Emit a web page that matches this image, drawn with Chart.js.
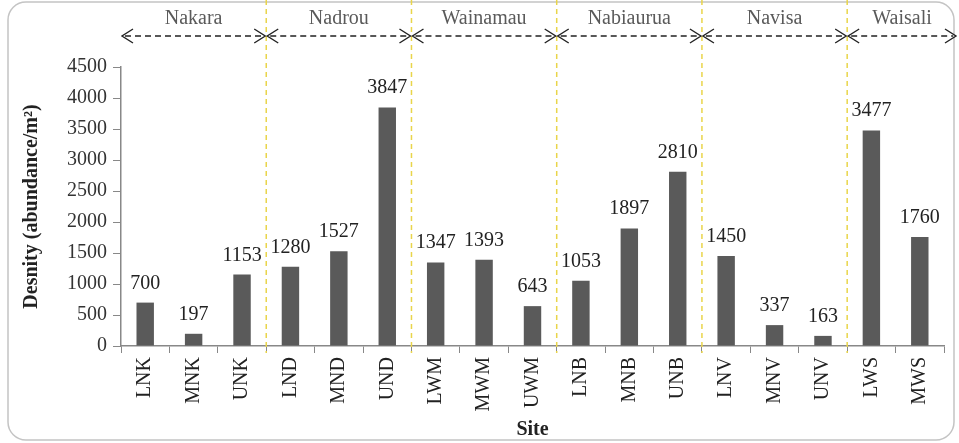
<!DOCTYPE html>
<html>
<head>
<meta charset="utf-8">
<script src="https://cdn.jsdelivr.net/npm/chart.js@4.4.0/dist/chart.umd.min.js"></script>
<style>
  html, body { margin: 0; padding: 0; background: #fff; }
  #wrap { width: 959px; height: 443px; position: relative; }
</style>
</head>
<body>
<div id="wrap"><canvas id="densityChart"></canvas></div>
<script>
// sites and densities
const sites = ["LNK", "MNK", "UNK", "LND", "MND", "UND", "LWM", "MWM", "UWM",
               "LNB", "MNB", "UNB", "LNV", "MNV", "UNV", "LWS", "MWS"];
const density = [700, 197, 1153, 1280, 1527, 3847, 1347, 1393, 643,
                 1053, 1897, 2810, 1450, 337, 163, 3477, 1760];
const yTicks = [0, 500, 1000, 1500, 2000, 2500, 3000, 3500, 4000, 4500];

// river groups: name and how many sites each spans
const groupNames = ["Nakara", "Nadrou", "Wainamau", "Nabiaurua", "Navisa", "Waisali"];
const groupSizes = [3, 3, 3, 3, 3, 2];

const serif = "Liberation Serif";

// 🔥 frame + yellow separators + group arrows + value labels
const decorations = {
    id: 'decorations',
    beforeDraw(chart) {
        const c = chart.ctx;
        c.save();
        c.strokeStyle = '#c4c4c4';
        c.lineWidth = 1.5;
        c.beginPath();
        c.roundRect(8, 2, 946, 438, 18);
        c.stroke();
        c.restore();
    },
    afterDraw(chart) {
        const c = chart.ctx;
        const x = chart.scales.x;
        const area = chart.chartArea;
        const half = (x.getPixelForValue(1) - x.getPixelForValue(0)) / 2;

        // boundaries between groups
        let edges = [area.left];
        let idx = 0;
        groupSizes.forEach(n => {
            idx += n;
            edges.push(x.getPixelForValue(idx - 1) + half);
        });
        edges[edges.length - 1] = chart.width - 2;

        // yellow dashed lines
        c.save();
        c.strokeStyle = '#e9d54a';
        c.lineWidth = 1.5;
        c.setLineDash([5, 4]);
        for (let i = 1; i < edges.length - 1; i++) {
            c.beginPath();
            c.moveTo(edges[i], 0);
            c.lineTo(edges[i], area.bottom + 7);
            c.stroke();
        }
        c.restore();

        // arrows and group names
        const ay = 36;
        c.save();
        c.strokeStyle = '#222';
        c.fillStyle = '#5a5a5a';
        c.lineWidth = 1.4;
        c.font = "20px '" + serif + "'";
        c.textAlign = 'center';
        c.textBaseline = 'middle';
        for (let i = 0; i < groupNames.length; i++) {
            const a = edges[i] + 1, b = edges[i + 1] - 1;
            c.setLineDash([6, 4]);
            c.beginPath();
            c.moveTo(a + 3, ay);
            c.lineTo(b - 3, ay);
            c.stroke();
            c.setLineDash([]);
            c.beginPath();
            c.moveTo(a + 11, ay - 7); c.lineTo(a, ay); c.lineTo(a + 11, ay + 7);
            c.moveTo(b - 11, ay - 7); c.lineTo(b, ay); c.lineTo(b - 11, ay + 7);
            c.stroke();
            c.fillText(groupNames[i], (a + b) / 2, 19);
        }
        c.restore();

        // value labels above bars
        const meta = chart.getDatasetMeta(0);
        c.save();
        c.fillStyle = '#222';
        c.font = "20px '" + serif + "'";
        c.textAlign = 'center';
        c.textBaseline = 'alphabetic';
        meta.data.forEach((bar, i) => {
            c.fillText(String(density[i]), bar.x, bar.y - 14);
        });
        c.restore();
    }
};

const ctx = document.getElementById("densityChart").getContext("2d");

new Chart(ctx, {
    type: 'bar',
    data: {
        labels: sites,
        datasets: [{
            data: density,
            backgroundColor: '#5a5a5a',
            barPercentage: 0.36,
            categoryPercentage: 1
        }]
    },
    options: {
        responsive: true,
        maintainAspectRatio: false,
        animation: false,
        layout: { padding: { left: 20, right: 15, top: 67, bottom: 1 } },
        plugins: {
            legend: { display: false },
            tooltip: { enabled: false }
        },
        scales: {
            x: {
                grid: { drawOnChartArea: false, tickLength: 7, color: '#888' },
                border: { color: '#888', width: 1.5 },
                ticks: {
                    color: '#222',
                    font: { family: serif, size: 20 },
                    minRotation: 90,
                    maxRotation: 90,
                    padding: 4
                },
                title: {
                    display: true,
                    text: 'Site',
                    color: '#222',
                    font: { family: serif, size: 20, weight: 'bold' },
                    padding: { top: 0, bottom: 0 }
                },
                afterFit(scale) { scale.height = 96; }
            },
            y: {
                min: 0,
                max: 4500,
                afterBuildTicks(scale) { scale.ticks = yTicks.map(v => ({ value: v })); },
                grid: { drawOnChartArea: false, tickLength: 8, color: '#888' },
                border: { color: '#888', width: 1.5 },
                ticks: {
                    color: '#333',
                    font: { family: serif, size: 20 },
                    padding: 6,
                    callback: v => String(v)
                },
                title: {
                    display: true,
                    text: 'Desnity (abundance/m²)',
                    color: '#222',
                    font: { family: serif, size: 20, weight: 'bold' },
                    padding: 0
                },
                afterFit(scale) { scale.width = 101; }
            }
        }
    },
    plugins: [decorations]
});
</script>
</body>
</html>
